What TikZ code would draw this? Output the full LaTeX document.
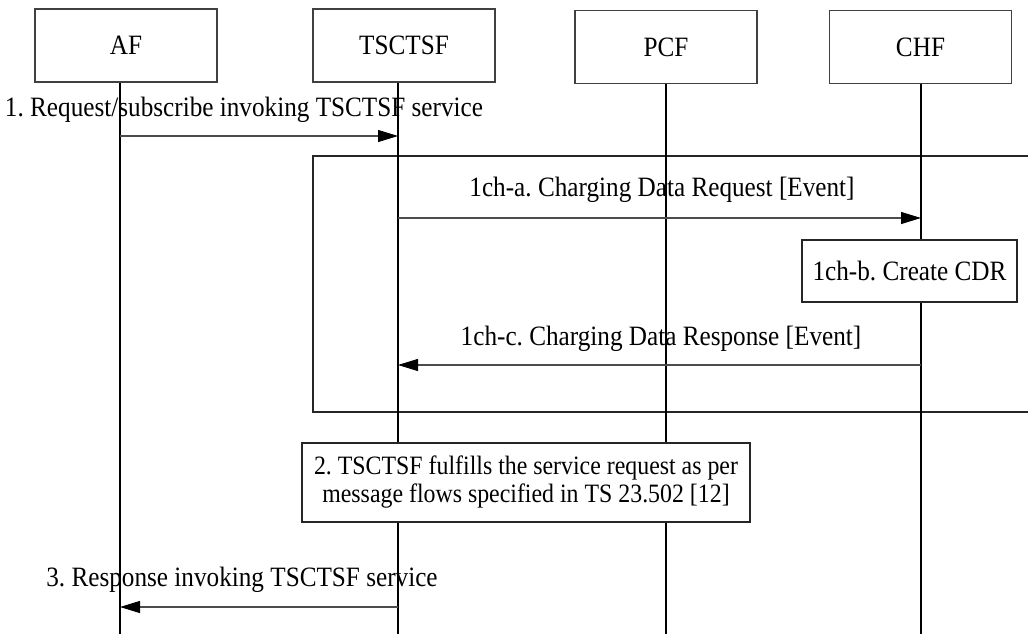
\documentclass[tikz,border=0pt]{standalone}
\usepackage{fontspec}
\setmainfont[FakeStretch=0.9]{Liberation Serif}
\usetikzlibrary{arrows.meta}
\newcommand\fs{\fontsize{28}{28}\selectfont\frenchspacing}
\newcommand\fsb{\fontsize{26.5}{28}\selectfont\frenchspacing}
\begin{document}
\begin{tikzpicture}[x=1pt,y=-1pt,
  ent/.style={draw=black!75,line width=1.1pt,minimum width=182pt,minimum height=73pt,inner sep=0pt,font=\fs},
  act/.style={draw=black!85,line width=1.1pt,inner sep=0pt,font=\fs,align=center},
  life/.style={draw=black,line width=1.8pt},
  msg/.style={draw=black!70,line width=1.1pt,-{Triangle[length=20pt,width=12pt,color=black]}},
  lbl/.style={font=\fs,inner sep=0pt,anchor=base},
  frame/.style={draw=black!85,line width=1.1pt}
]
\useasboundingbox (0,0) rectangle (1028,634);
% entities
\node[ent] (af) at (126,45.5) {AF};
\node[ent] (tsc) at (404,45.5) {TSCTSF};
\node[ent] (pcf) at (666,47) {PCF};
\node[ent] (chf) at (920.5,47) {CHF};
% lifeline ends
\coordinate (afE) at (120,634);
\coordinate (tscE) at (398,634);
\coordinate (pcfE) at (666,634);
\coordinate (chfE) at (921,634);
% frame (drawn first, under lifelines)
\coordinate (fr1) at (1030,156);
\coordinate (fr2) at (313,156);
\coordinate (fr3) at (313,412);
\coordinate (fr4) at (1030,412);
\draw[frame] (fr1) -- (fr2) -- (fr3) -- (fr4);
% lifelines
\draw[life] (af.south -| afE) -- (afE);
\draw[life] (tsc.south -| tscE) -- (tscE);
\draw[life] (pcf.south -| pcfE) -- (pcfE);
\draw[life] (chf.south -| chfE) -- (chfE);
% message 1
\node[lbl] (l1) at (244,116) {1. Request/subscribe invoking TSCTSF service};
\coordinate (m1a) at (120,136);
\coordinate (m1b) at (398,136);
\draw[msg] (m1a) -- (m1b);
% 1ch-a
\node[lbl] (l1a) at (662,196) {1ch-a. Charging Data Request [Event]};
\coordinate (m2a) at (398,218);
\coordinate (m2b) at (921,218);
\draw[msg] (m2a) -- (m2b);
% 1ch-b
\node[act,minimum width=215pt,minimum height=62pt,fill=white] (cdr) at (909.5,271) {1ch-b. Create CDR};
% 1ch-c
\node[lbl] (l1c) at (661,345) {1ch-c. Charging Data Response [Event]};
\coordinate (m3a) at (921,365);
\coordinate (m3b) at (398,365);
\draw[msg] (m3a) -- (m3b);
% step 2
\node[act,minimum width=448pt,minimum height=79pt,fill=white,font=\fsb] (s2) at (526,482.5) {2. TSCTSF fulfills the service request as per\\message flows specified in TS 23.502 [12]};
% message 3
\node[lbl] (l3) at (242,586) {3. Response invoking TSCTSF service};
\coordinate (m4a) at (398,607);
\coordinate (m4b) at (120,607);
\draw[msg] (m4a) -- (m4b);
\end{tikzpicture}
\end{document}
